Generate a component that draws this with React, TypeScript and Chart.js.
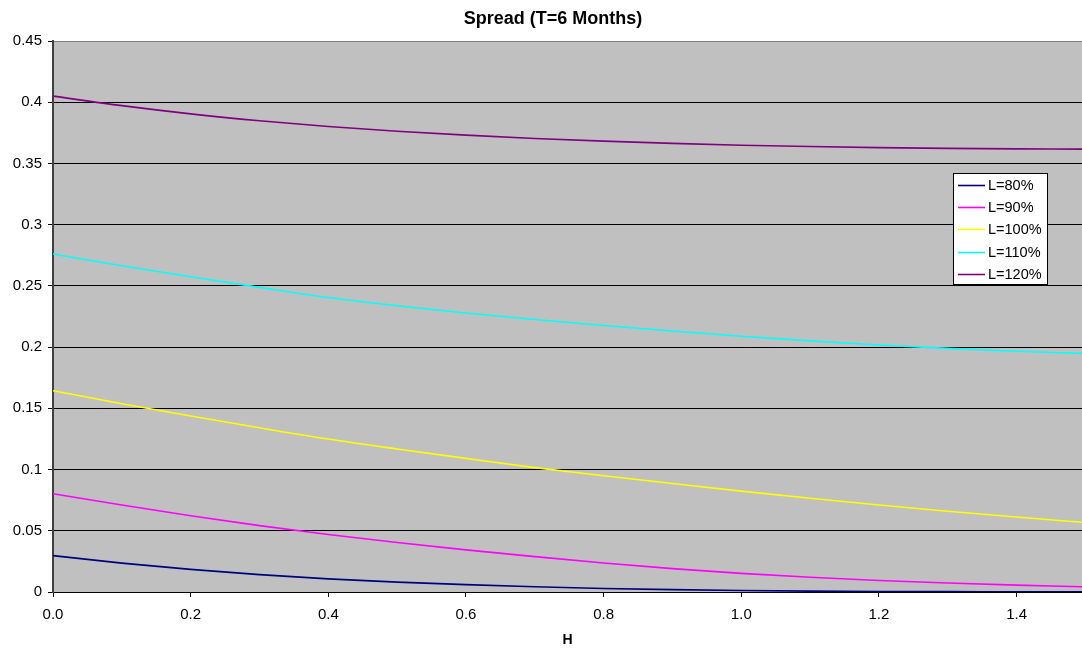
import React, { useEffect, useRef } from "react";
import { Chart, registerables } from "chart.js";

Chart.register(...registerables);

const TITLE = "Spread (T=6 Months)";
const X_TITLE = "H";

const H_VALUES = [0, 0.1, 0.2, 0.3, 0.4, 0.5, 0.6, 0.7, 0.8, 0.9, 1.0, 1.1, 1.2, 1.3, 1.4, 1.5];

const L80 = [0.0297, 0.0236, 0.0185, 0.0142, 0.0107, 0.0081, 0.006, 0.0043, 0.0029, 0.0019, 0.0012, 0.0007, 0.0004, 0.0003, 0.0002, 0.0001];
const L90 = [0.0803, 0.071, 0.0623, 0.0542, 0.047, 0.0404, 0.0344, 0.0289, 0.0237, 0.0191, 0.0152, 0.012, 0.0094, 0.0073, 0.0056, 0.0042];
const L100 = [0.1644, 0.1538, 0.1438, 0.1341, 0.1249, 0.1168, 0.1091, 0.1016, 0.0949, 0.0886, 0.0824, 0.0766, 0.0711, 0.066, 0.0612, 0.0567];
const L110 = [0.276, 0.2665, 0.2575, 0.2488, 0.2405, 0.2338, 0.2279, 0.2225, 0.2176, 0.2131, 0.2089, 0.2051, 0.2017, 0.199, 0.1966, 0.1948];
const L120 = [0.405, 0.3972, 0.3905, 0.3849, 0.3802, 0.3763, 0.3731, 0.3704, 0.3682, 0.3664, 0.3649, 0.3638, 0.3629, 0.3623, 0.3619, 0.3617];

const SERIES_LABELS = ["L=80%", "L=90%", "L=100%", "L=110%", "L=120%"];
const SERIES_VALUES = [L80, L90, L100, L110, L120];
const SERIES_COLORS = ["#000080", "#FF00FF", "#FFFF00", "#00FFFF", "#800080"];

const FONT = '"Liberation Sans", Arial, sans-serif';

const plotBackground = {
  id: "plotBackground",
  beforeDraw(chart: any) {
    const { ctx, chartArea } = chart;
    ctx.save();
    ctx.fillStyle = "#C0C0C0";
    ctx.fillRect(chartArea.left, chartArea.top, chartArea.right - chartArea.left, chartArea.bottom - chartArea.top);
    ctx.restore();
  },
};

const titlePlugin = {
  id: "customTitle",
  afterDraw(chart: any) {
    const { ctx } = chart;
    ctx.save();
    ctx.font = `bold 18px ${FONT}`;
    ctx.fillStyle = "#000000";
    ctx.textAlign = "center";
    ctx.textBaseline = "middle";
    ctx.fillText(TITLE, 553, 19);
    ctx.restore();
  },
};

const legendBox = {
  id: "legendBox",
  afterDraw(chart: any) {
    const { ctx, chartArea } = chart;
    const w = 94;
    const h = 111;
    const x0 = Math.round(chartArea.right - 129);
    const y0 = Math.round(chartArea.top + 132);
    ctx.save();
    ctx.fillStyle = "#FFFFFF";
    ctx.fillRect(x0, y0, w, h);
    ctx.strokeStyle = "#000000";
    ctx.lineWidth = 1;
    ctx.strokeRect(x0 + 0.5, y0 + 0.5, w, h);
    ctx.font = `14.5px ${FONT}`;
    ctx.textBaseline = "middle";
    ctx.textAlign = "left";
    chart.data.datasets.forEach((ds: any, i: number) => {
      const cy = Math.round(y0 + 12 + i * 22.2) + 0.5;
      ctx.strokeStyle = ds.borderColor;
      ctx.lineWidth = 1.6;
      ctx.beginPath();
      ctx.moveTo(x0 + 5, cy);
      ctx.lineTo(x0 + 32, cy);
      ctx.stroke();
      ctx.fillStyle = "#000000";
      ctx.fillText(ds.label, x0 + 35, cy);
    });
    ctx.restore();
  },
};

export default function App() {
  const canvasRef = useRef<HTMLCanvasElement | null>(null);

  useEffect(() => {
    const canvas = canvasRef.current;
    if (!canvas) return;
    const chart = new Chart(canvas, {
      type: "line",
      data: {
        datasets: SERIES_LABELS.map((label, i) => ({
          label,
          data: H_VALUES.map((x, j) => ({ x, y: SERIES_VALUES[i][j] })),
          borderColor: SERIES_COLORS[i],
          backgroundColor: SERIES_COLORS[i],
          borderWidth: 1.6,
          pointRadius: 0,
          cubicInterpolationMode: "monotone" as const,
          fill: false,
        })),
      },
      options: {
        responsive: false,
        animation: false,
        layout: { padding: { top: 41, left: 0, right: 0, bottom: 0 } },
        plugins: {
          legend: { display: false },
          tooltip: { enabled: false },
          title: { display: false },
        },
        scales: {
          x: {
            type: "linear",
            min: 0,
            max: 1.495,
            afterFit: (s: any) => {
              s.height = 61;
            },
            grid: { drawOnChartArea: false, drawTicks: true, tickLength: 5, color: "#000000" },
            border: { color: "#000000", width: 1 },
            ticks: {
              stepSize: 0.2,
              includeBounds: false,
              maxRotation: 0,
              autoSkip: false,
              padding: 9,
              color: "#000000",
              font: { family: FONT, size: 15 },
              callback: (v: any) => Number(v).toFixed(1),
            },
            title: {
              display: true,
              text: X_TITLE,
              color: "#000000",
              font: { family: FONT, size: 14, weight: "bold" },
              padding: { top: 0, bottom: 4 },
            },
          },
          y: {
            type: "linear",
            min: 0,
            max: 0.45,
            afterFit: (s: any) => {
              s.width = 53;
            },
            grid: {
              color: (c: any) => (c.index === 9 ? "#808080" : "#000000"),
              tickColor: "#000000",
              tickLength: 5,
              lineWidth: 1,
            },
            border: { color: "#404040", width: 2 },
            ticks: {
              stepSize: 0.05,
              padding: 6,
              color: "#000000",
              font: { family: FONT, size: 15 },
              callback: (v: any) => String(Number(Number(v).toFixed(2))),
            },
          },
        },
      },
      plugins: [plotBackground, titlePlugin, legendBox],
    });
    return () => chart.destroy();
  }, []);

  return (
    <div style={{ position: "fixed", left: 0, top: 0, width: 1082, height: 653, background: "#FFFFFF" }}>
      <canvas ref={canvasRef} width={1082} height={653} style={{ display: "block", width: 1082, height: 653 }} />
    </div>
  );
}
